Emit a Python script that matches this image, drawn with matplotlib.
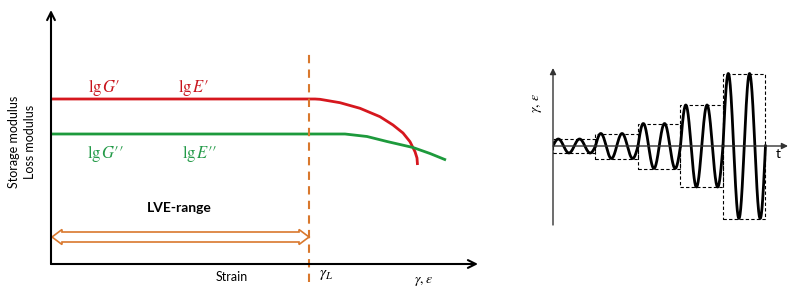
import numpy as np
import matplotlib
matplotlib.use('Agg')
import matplotlib.pyplot as plt
from matplotlib.patches import Polygon, Rectangle

plt.rcParams['font.family'] = ['Lato', 'DejaVu Sans']
plt.rcParams['mathtext.fontset'] = 'stix'

# left panel: schematic amplitude sweep (arbitrary units)
red_x = [0, 264, 269, 289, 309, 329, 342, 352, 359, 364, 366, 366.5]
red_y = [165, 165, 164.7, 161.3, 155.7, 147.3, 139, 131, 122.3, 112.3, 106, 99]
green_x = [0, 294, 316, 336, 362, 379, 395]
green_y = [130, 130, 127.5, 122.5, 116.5, 110.5, 104]
gamma_L = 258
lve_y = 27

# right panel: stepped oscillation amplitudes
amps = [7, 12.5, 22.5, 41, 72.5]
periods = 2

RED = '#d6171e'
GREEN = '#1d9a3c'
ORANGE = '#d9782d'

fig = plt.figure(figsize=(8, 2.99), dpi=100)
W, H = 800, 299


def px_axes(x0, y0, x1, y1):
	return fig.add_axes([x0 / W, (H - y1) / H, (x1 - x0) / W, (y1 - y0) / H])


def hollow_darrow(ax, x0, x1, y, half_shaft, half_head, head_len, color):
	verts = [(x0, y), (x0 + head_len, y + half_head), (x0 + head_len, y + half_shaft),
		(x1 - head_len, y + half_shaft), (x1 - head_len, y + half_head), (x1, y),
		(x1 - head_len, y - half_head), (x1 - head_len, y - half_shaft),
		(x0 + head_len, y - half_shaft), (x0 + head_len, y - half_head)]
	ax.add_patch(Polygon(verts, closed=True, facecolor='white', edgecolor=color, lw=1.2))


# ---- left chart
ax = px_axes(51, 10, 478, 264)
ax.set_xlim(0, 427)
ax.set_ylim(0, 254)
ax.axis('off')
ax.annotate('', xy=(427, 0), xytext=(0, 0),
	arrowprops=dict(arrowstyle='->', lw=1.5, color='black', shrinkA=0, shrinkB=0,
		mutation_scale=14), annotation_clip=False)
ax.annotate('', xy=(0, 254), xytext=(0, 0),
	arrowprops=dict(arrowstyle='->', lw=1.5, color='black', shrinkA=0, shrinkB=0,
		mutation_scale=14), annotation_clip=False)

ax.plot(red_x, red_y, color=RED, lw=2, solid_capstyle='butt', solid_joinstyle='round')
ax.plot(green_x, green_y, color=GREEN, lw=2, solid_capstyle='butt', solid_joinstyle='round')
ax.plot([gamma_L, gamma_L], [-18, 214], color=ORANGE, lw=1.5, ls=(0, (4, 3)), clip_on=False)
hollow_darrow(ax, 1, gamma_L, lve_y, 5, 7.5, 10, ORANGE)

LRED = '#c8141c'
LGREEN = '#239a48'
ax.text(53, 176, r'$\mathrm{lg}\,G\prime$', color=LRED, fontsize=12, ha='center', va='center')
ax.text(142, 176, r'$\mathrm{lg}\,E\prime$', color=LRED, fontsize=12, ha='center', va='center')
ax.text(55, 111, r'$\mathrm{lg}\,G\prime\prime$', color=LGREEN, fontsize=12, ha='center', va='center')
ax.text(149, 111, r'$\mathrm{lg}\,E\prime\prime$', color=LGREEN, fontsize=12, ha='center', va='center')
ax.text(128, 56, 'LVE-range', fontsize=10, fontweight='bold', ha='center', va='center')
ax.text(181, -13, 'Strain', fontsize=9, ha='center', va='center')
ax.text(275, -11, r'$\gamma_L$', fontsize=11, ha='center', va='center')
ax.text(373, -18, r'$\gamma,\varepsilon$', fontsize=10, ha='center', va='center')

fig.text(14 / W, 1 - 142 / H, 'Storage modulus', rotation=90, fontsize=9, ha='center', va='center')
fig.text(30 / W, 1 - 142 / H, 'Loss modulus', rotation=90, fontsize=9, ha='center', va='center')

# ---- right chart
ax2 = px_axes(553, 68, 788, 225)
ax2.set_xlim(0, 5.53)
ax2.set_ylim(-79, 78)
ax2.axis('off')
ax2.annotate('', xy=(5.53, 0), xytext=(0, 0),
	arrowprops=dict(arrowstyle='-|>', lw=1, color='#333333', shrinkA=0, shrinkB=0,
		mutation_scale=9), annotation_clip=False)
ax2.annotate('', xy=(0, 78), xytext=(0, -79),
	arrowprops=dict(arrowstyle='-|>', lw=1, color='#333333', shrinkA=0, shrinkB=0,
		mutation_scale=9), annotation_clip=False)

for i, a in enumerate(amps):
	t = np.linspace(i, i + 1, 200)
	ax2.plot(t, a * np.sin(2 * np.pi * periods * (t - i)), color='black', lw=2)
	ax2.add_patch(Rectangle((i, -a), 1, 2 * a, fill=False, ls=(0, (3, 2)), lw=0.8,
		edgecolor='black'))

ax2.text(5.3, -8, 't', fontsize=10, ha='center', va='center')
fig.text(538 / W, 1 - 103 / H, r'$\gamma,\,\varepsilon$', rotation=90, fontsize=10,
	ha='center', va='center')

plt.savefig('out.png', dpi=100)
plt.close(fig)
